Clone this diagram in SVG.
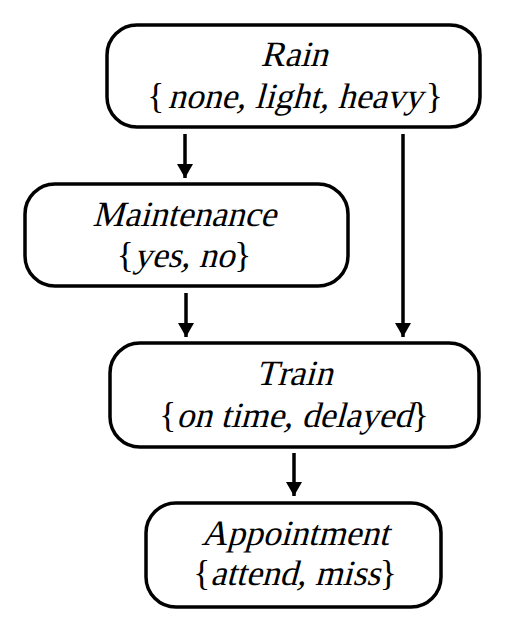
<svg xmlns="http://www.w3.org/2000/svg" width="507" height="626" viewBox="0 0 507 626">
<defs>
<style>
.box{fill:#fff;stroke:#000;stroke-width:3.5}
.lbl{font-family:'Liberation Serif','Times New Roman',serif;font-size:35.5px;fill:#000;font-kerning:none}
.c{text-anchor:middle}
.l{text-anchor:end}
.r{text-anchor:start}
.edge{stroke:#000;stroke-width:3.5;fill:none}
</style>
<marker id="ah" markerWidth="4" markerHeight="4.6" refX="4" refY="2.3" orient="auto" markerUnits="strokeWidth">
<path d="M0,0 L4,2.3 L0,4.6 Z" fill="#000"/>
</marker>
</defs>
<rect width="507" height="626" fill="#fff"/>
<g id="connectors">
<line class="edge" x1="185" y1="134" x2="185" y2="178" marker-end="url(#ah)"/>
<line class="edge" x1="403" y1="134" x2="403" y2="337" marker-end="url(#ah)"/>
<line class="edge" x1="186" y1="293" x2="186" y2="337" marker-end="url(#ah)"/>
<line class="edge" x1="294" y1="453" x2="294" y2="496" marker-end="url(#ah)"/>
</g>
<g id="rain">
<rect class="box" x="107" y="25" width="373" height="102" rx="30"/>
<text class="lbl c" transform="translate(294 66) skewX(-15)">Rain</text>
<text class="lbl l" x="164.3" y="108">{</text>
<text class="lbl c" transform="translate(295 108) skewX(-15)">none, light, heavy</text>
<text class="lbl r" x="425.7" y="108">}</text>
</g>
<g id="maintenance">
<rect class="box" x="25" y="184" width="323" height="102" rx="30"/>
<text class="lbl c" transform="translate(184 226) skewX(-15)">Maintenance</text>
<text class="lbl l" x="133.7" y="267">{</text>
<text class="lbl c" transform="translate(184 267) skewX(-15)">yes, no</text>
<text class="lbl r" x="234.3" y="267">}</text>
</g>
<g id="train">
<rect class="box" x="110" y="343" width="369" height="104" rx="30"/>
<text class="lbl c" transform="translate(294 385) skewX(-15)">Train</text>
<text class="lbl l" x="176.2" y="427">{</text>
<text class="lbl c" transform="translate(294 427) skewX(-15)">on time, delayed</text>
<text class="lbl r" x="411.8" y="427">}</text>
</g>
<g id="appointment">
<rect class="box" x="146" y="503" width="295" height="104" rx="30"/>
<text class="lbl c" transform="translate(295 545) skewX(-15)">Appointment</text>
<text class="lbl l" x="210.2" y="585">{</text>
<text class="lbl c" transform="translate(295 585) skewX(-15)">attend, miss</text>
<text class="lbl r" x="379.8" y="585">}</text>
</g>
</svg>
